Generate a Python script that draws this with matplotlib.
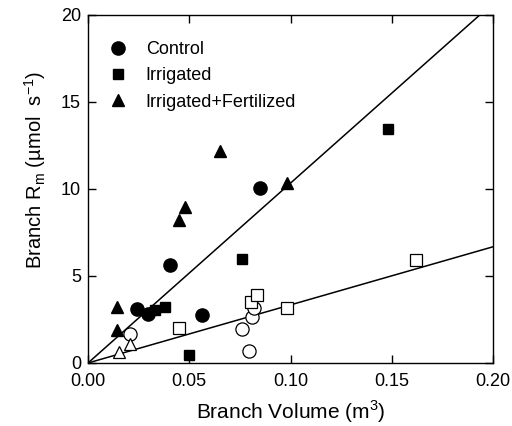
import matplotlib
matplotlib.use('Agg')
import matplotlib.pyplot as plt
import numpy as np

plt.rcParams['font.family'] = ['Liberation Sans', 'DejaVu Sans']
plt.rcParams['mathtext.fontset'] = 'custom'
plt.rcParams['mathtext.rm'] = 'Liberation Sans'

# filled symbols
control_x = [0.024, 0.0297, 0.0407, 0.0563, 0.0847]
control_y = [3.1, 2.8, 5.65, 2.78, 10.07]
irr_x = [0.033, 0.038, 0.0499, 0.0762, 0.148]
irr_y = [3.05, 3.24, 0.46, 5.98, 13.43]
irrfert_x = [0.0141, 0.0141, 0.045, 0.0481, 0.0653, 0.0982]
irrfert_y = [3.24, 1.9, 8.2, 8.98, 12.2, 10.36]

# open symbols
control_open_x = [0.0207, 0.076, 0.0793, 0.081, 0.0819]
control_open_y = [1.67, 1.93, 0.71, 2.66, 3.14]
irr_open_x = [0.0448, 0.0806, 0.0834, 0.0983, 0.162]
irr_open_y = [2.03, 3.52, 3.89, 3.18, 5.92]
irrfert_open_x = [0.0154, 0.0207]
irrfert_open_y = [0.65, 1.09]

# regression slopes (through origin)
slope_filled = 103.4
slope_open = 33.4

fig = plt.figure(figsize=(5.12, 4.26), dpi=100)
ax = fig.add_axes([0.1719, 0.1479, 0.7911, 0.8169])

xx = np.array([0.0, 0.2])
ax.plot(xx, slope_filled * xx, color='black', lw=1.1)
ax.plot(xx, slope_open * xx, color='black', lw=1.1)

ax.plot(control_x, control_y, 'o', color='black', ms=9.5, label='Control')
ax.plot(irr_x, irr_y, 's', color='black', ms=7.5, label='Irrigated')
ax.plot(irrfert_x, irrfert_y, '^', color='black', ms=8.5, label='Irrigated+Fertilized')

ax.plot(control_open_x, control_open_y, 'o', mfc='white', mec='black', mew=0.9, ms=9.5)
ax.plot(irr_open_x, irr_open_y, 's', mfc='white', mec='black', mew=0.9, ms=8)
ax.plot(irrfert_open_x, irrfert_open_y, '^', mfc='white', mec='black', mew=0.9, ms=9)

ax.set_xlim(0, 0.2)
ax.set_ylim(0, 20)
ax.set_xticks([0.0, 0.05, 0.10, 0.15, 0.20])
ax.set_xticklabels(['0.00', '0.05', '0.10', '0.15', '0.20'])
ax.set_yticks([0, 5, 10, 15, 20])
ax.tick_params(direction='in', top=True, right=True, labelsize=13, length=6, width=1)
ax.tick_params(axis='y', pad=5)
ax.tick_params(axis='x', pad=7)
for s in ax.spines.values():
    s.set_linewidth(1)

ax.set_xlabel('Branch Volume (m$^3$)', fontsize=15, labelpad=6)
ax.set_ylabel('Branch R$_\\mathrm{m}$ (\u00b5mol  s$^{-1}$)', fontsize=14.5)
ax.yaxis.set_label_coords(-0.1, 0.555)

ax.legend(loc='upper left', frameon=False, fontsize=13, handletextpad=0.55,
          labelspacing=0.52, borderaxespad=0, numpoints=1,
          bbox_to_anchor=(0.011, 0.9465))

fig.savefig('out.png', dpi=100)
